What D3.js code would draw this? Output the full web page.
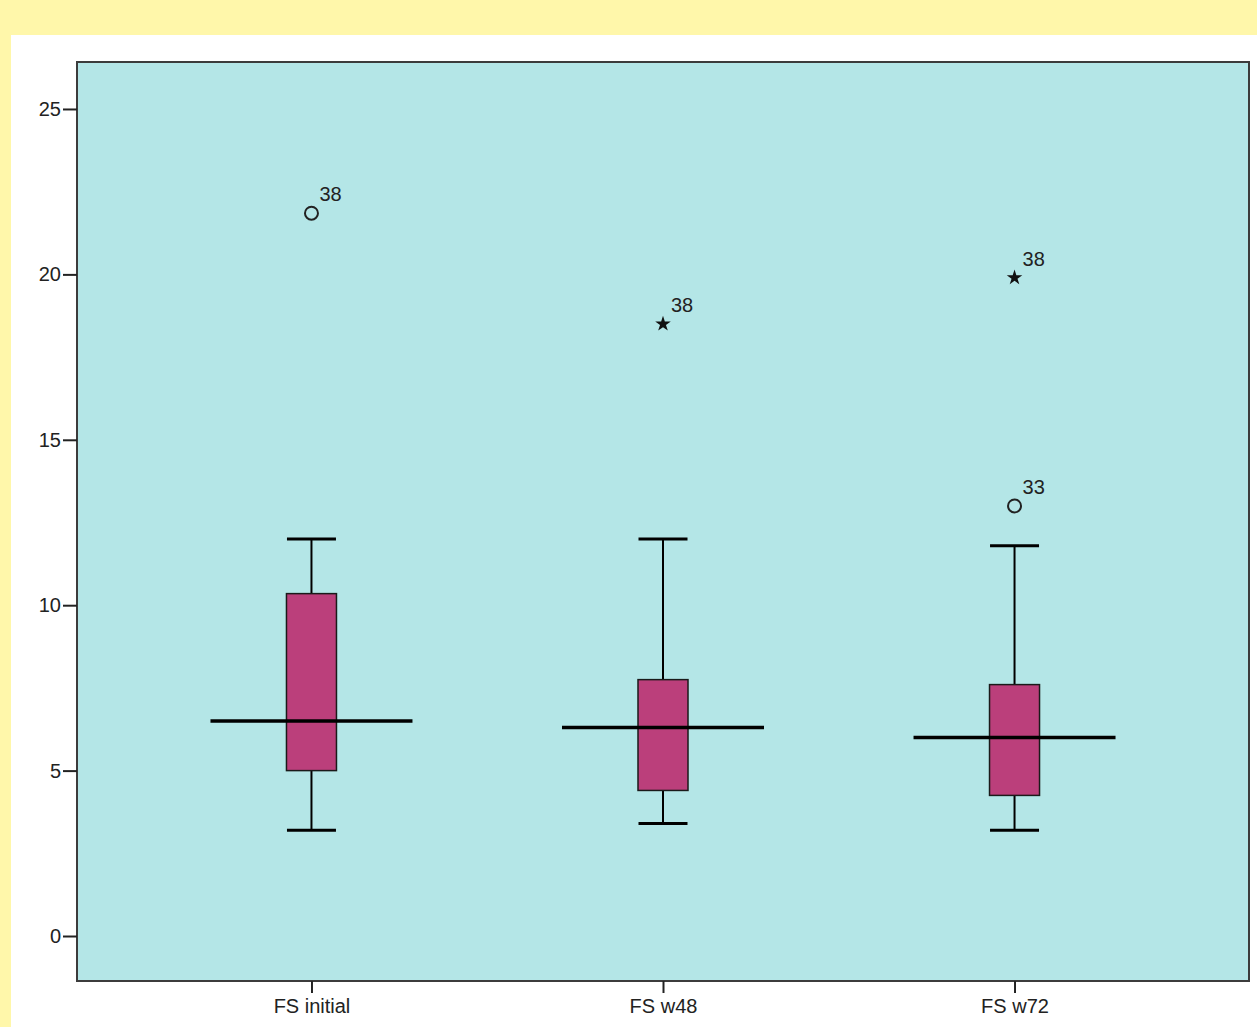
<!DOCTYPE html>
<html><head><meta charset="utf-8">
<script src="https://cdn.jsdelivr.net/npm/d3@7"></script>
<style>html,body{margin:0;padding:0;background:#fff7aa;}svg{display:block;}</style>
</head><body>
<script>
const categories = ["FS initial", "FS w48", "FS w72"];
const whiskerLow = [3.2, 3.4, 3.2];
const q1 = [5.0, 4.4, 4.25];
const median = [6.5, 6.3, 6.0];
const q3 = [10.35, 7.75, 7.6];
const whiskerHigh = [12.0, 12.0, 11.8];
// outliers: category index, value, label, type
const outlierCat = [0, 1, 2, 2];
const outlierVal = [21.85, 18.5, 19.9, 13.0];
const outlierLabel = ["38", "38", "38", "33"];
const outlierType = ["circle", "star", "star", "circle"];
const yTicks = [0, 5, 10, 15, 20, 25];

const W = 1257, H = 1027;
const svg = d3.select("body").append("svg").attr("width", W).attr("height", H);
svg.append("rect").attr("width", W).attr("height", H).attr("fill", "#fff7aa");
svg.append("rect").attr("x", 11).attr("y", 35).attr("width", W - 11).attr("height", H - 35).attr("fill", "#ffffff");

const L = 77, R = 1249, T = 62, B = 981;
const y = d3.scaleLinear().domain([-1.36, 26.42]).range([B, T]);
const x = d3.scalePoint().domain(categories).range([L, R]).padding(0.667);

svg.append("rect").attr("x", L).attr("y", T).attr("width", R - L).attr("height", B - T)
  .attr("fill", "#b4e6e7").attr("stroke", "#3c3c3c").attr("stroke-width", 2);

const font = "Arial, 'Liberation Sans', sans-serif";
const yAxis = svg.append("g").attr("transform", `translate(${L},0)`)
  .call(d3.axisLeft(y).tickValues(yTicks).tickSize(14).tickPadding(2).tickFormat(d3.format("d")));
yAxis.select(".domain").remove();
yAxis.selectAll("line").attr("stroke", "#222").attr("stroke-width", 2);
yAxis.selectAll("text").attr("font-family", font).attr("font-size", 20).attr("fill", "#222");

const xAxis = svg.append("g").attr("transform", `translate(0,${B})`)
  .call(d3.axisBottom(x).tickSize(12).tickPadding(6));
xAxis.select(".domain").remove();
xAxis.selectAll("line").attr("stroke", "#222").attr("stroke-width", 2);
xAxis.selectAll("text").attr("font-family", font).attr("font-size", 20).attr("fill", "#222");

const boxW = 50, capW = 49, medW = 202;
const g = svg.append("g");
categories.forEach((c, i) => {
  const cx = x(c);
  g.append("line").attr("x1", cx).attr("x2", cx).attr("y1", y(whiskerHigh[i])).attr("y2", y(q3[i]))
    .attr("stroke", "#000").attr("stroke-width", 2);
  g.append("line").attr("x1", cx).attr("x2", cx).attr("y1", y(q1[i])).attr("y2", y(whiskerLow[i]))
    .attr("stroke", "#000").attr("stroke-width", 2);
  g.append("line").attr("x1", cx - capW / 2).attr("x2", cx + capW / 2).attr("y1", y(whiskerHigh[i])).attr("y2", y(whiskerHigh[i]))
    .attr("stroke", "#000").attr("stroke-width", 3);
  g.append("line").attr("x1", cx - capW / 2).attr("x2", cx + capW / 2).attr("y1", y(whiskerLow[i])).attr("y2", y(whiskerLow[i]))
    .attr("stroke", "#000").attr("stroke-width", 3);
  g.append("rect").attr("x", cx - boxW / 2).attr("y", y(q3[i])).attr("width", boxW).attr("height", y(q1[i]) - y(q3[i]))
    .attr("fill", "#bb3f7b").attr("stroke", "#1a1a1a").attr("stroke-width", 1.5);
  g.append("line").attr("x1", cx - medW / 2).attr("x2", cx + medW / 2).attr("y1", y(median[i])).attr("y2", y(median[i]))
    .attr("stroke", "#000").attr("stroke-width", 3.5);
});

outlierVal.forEach((v, k) => {
  const cx = x(categories[outlierCat[k]]), cy = y(v);
  if (outlierType[k] === "circle") {
    g.append("circle").attr("cx", cx).attr("cy", cy).attr("r", 6.5)
      .attr("fill", "none").attr("stroke", "#222").attr("stroke-width", 2);
  } else {
    g.append("path").attr("d", d3.symbol().type(d3.symbolStar).size(75)()).attr("transform", `translate(${cx},${cy})`)
      .attr("fill", "#111");
  }
  g.append("text").attr("x", cx + 8).attr("y", cy - 12).attr("font-family", font).attr("font-size", 20)
    .attr("fill", "#222").text(outlierLabel[k]);
});
</script>
</body></html>
